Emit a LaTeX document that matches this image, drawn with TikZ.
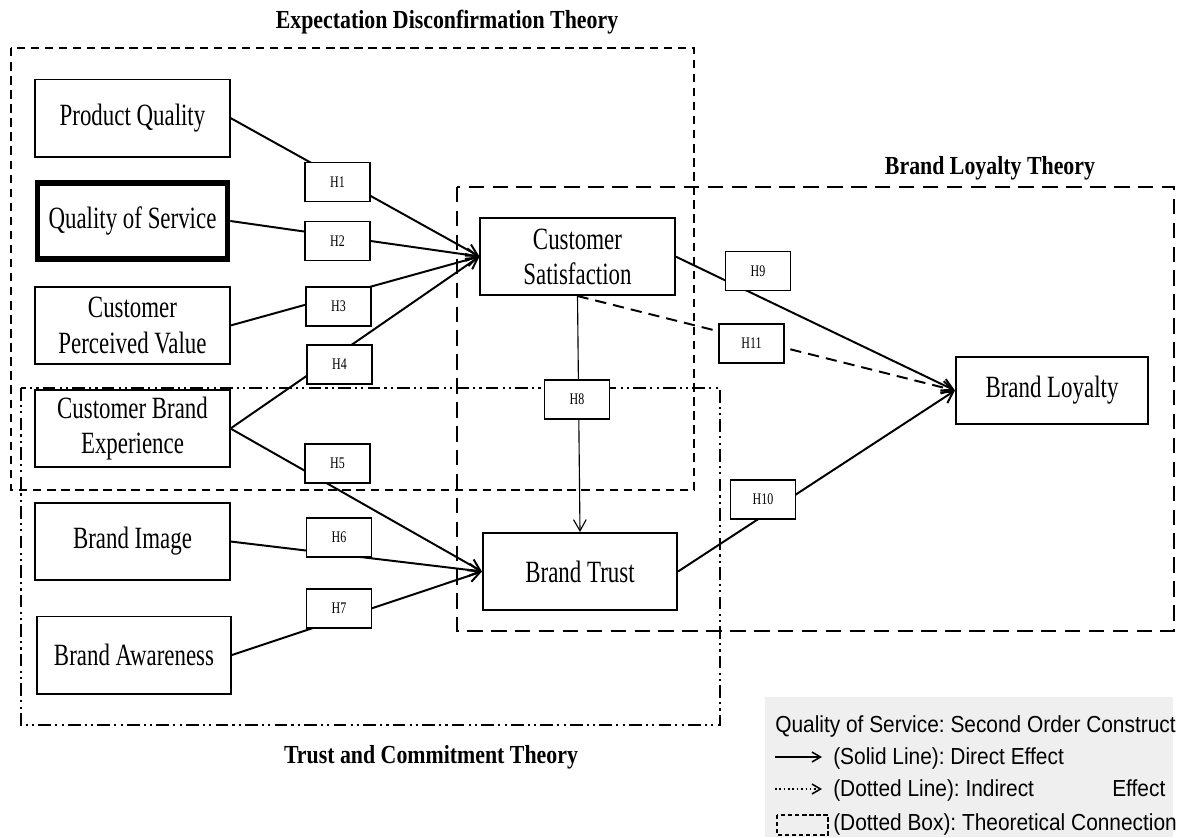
\documentclass[tikz,border=0pt]{standalone}
\usepackage{fontspec}
\usepackage{tikz}
\usetikzlibrary{arrows.meta,positioning}
\newfontfamily\narrowserif[FakeStretch=0.74]{Liberation Serif}
\newfontfamily\narrowtitle[FakeStretch=0.84]{Liberation Serif}
\newfontfamily\narrowsans[FakeStretch=0.9]{Liberation Sans}
\definecolor{LegendGray}{HTML}{EFEFEF}
\frenchspacing

\begin{document}
\begin{tikzpicture}[x=0.025cm, y=-0.025cm,
    construct/.style={draw, line width=1.4pt, fill=white, minimum width=4.85cm, minimum height=1.925cm, inner sep=0pt, align=center, font=\narrowserif\fontsize{22}{25}\selectfont},
    hyp/.style={draw, line width=1.2pt, fill=white, minimum width=1.625cm, minimum height=0.975cm, inner sep=0pt, font=\narrowserif\fontsize{11.5}{13}\selectfont},
    theory/.style={inner sep=0pt, font=\narrowtitle\bfseries\fontsize{18.5}{22}\selectfont},
    legtext/.style={anchor=base west, inner sep=0pt, font=\narrowsans\fontsize{16.5}{20}\selectfont},
    edtzone/.style={line width=1.3pt, dash pattern=on 6pt off 4pt},
    bltzone/.style={line width=1.5pt, dash pattern=on 11pt off 6pt},
    tctzone/.style={line width=1.3pt, dash pattern=on 9pt off 3pt on 1.5pt off 3pt on 1.5pt off 3pt},
    arr/.style={line width=1.4pt, -{Straight Barb[length=8pt,width=9pt]}},
    ind/.style={arr, dash pattern=on 8pt off 5pt},
    thinarr/.style={line width=0.8pt, -{Straight Barb[length=8pt,width=9pt]}}
  ]
    \useasboundingbox (0,0) rectangle (1189,837);

    \draw[edtzone] (11,48) rectangle (694,490);
    \draw[bltzone] (457,187) rectangle (1174,631);
    \draw[tctzone] (21,388) rectangle (720,725);

    \node[theory] (edt) at (447,22) {Expectation Disconfirmation Theory};
    \node[theory] (blt) at (990,168) {Brand Loyalty Theory};
    \node[theory] (tct) at (431,757) {Trust and Commitment Theory};

    \node[construct] (pq) at (132.5,118) {Product Quality};
    \node[construct, line width=4pt, minimum width=4.75cm, minimum height=1.9cm] (qos) at (132.5,221) {Quality of Service};
    \node[construct] (cpv) at (132.5,325.5) {Customer\\Perceived Value};
    \node[construct] (cbe) at (132.5,428.5) {Customer Brand\\Experience};
    \node[construct] (bi) at (132.5,541.5) {Brand Image};
    \node[construct] (ba) at (134,655) {Brand Awareness};
    \node[construct] (cs) at (577.5,256.5) {Customer\\Satisfaction};
    \node[construct] (bt) at (580,571.5) {Brand Trust};
    \node[construct, minimum width=4.8cm, minimum height=1.675cm] (bl) at (1052,390.5) {Brand Loyalty};

    \draw[arr] (pq.east) -- (cs.west);
    \draw[arr] (qos.east) -- (cs.west);
    \draw[arr] (cpv.east) -- (cs.west);
    \draw[arr] (cbe.east) -- (cs.west);
    \draw[arr] (cbe.east) -- (bt.west);
    \draw[arr] (bi.east) -- (bt.west);
    \draw[arr] (ba.east) -- (bt.west);
    \draw[thinarr] (cs.south) -- (bt.north);
    \draw[arr] (cs.east) -- (bl.west);
    \draw[arr] (bt.east) -- (bl.west);
    \draw[ind] (cs.south) -- (bl.west);

    \node[hyp] (h1) at (337.5,182) {H1};
    \node[hyp] (h2) at (337.5,241) {H2};
    \node[hyp] (h3) at (338.5,306.5) {H3};
    \node[hyp] (h4) at (339.5,364.5) {H4};
    \node[hyp] (h5) at (337.5,463.5) {H5};
    \node[hyp] (h6) at (339,537.5) {H6};
    \node[hyp] (h7) at (339,608.5) {H7};
    \node[hyp] (h8) at (577,399.5) {H8};
    \node[hyp] (h9) at (758,271) {H9};
    \node[hyp] (h10) at (763,499.5) {H10};
    \node[hyp] (h11) at (751.5,343.5) {H11};

    \fill[LegendGray] (765,697) rectangle (1173,837);
    \node[legtext] (lgq) at (775,732) {Quality of Service: Second Order Construct};
    \coordinate (lgsa) at (775,757);
    \coordinate (lgsb) at (822,757);
    \draw[line width=1.1pt, -{Straight Barb[length=6pt,width=7pt]}] (lgsa) -- (lgsb);
    \node[legtext] (lgs) at (833,764) {(Solid Line): Direct Effect};
    \coordinate (lgda) at (775,789);
    \coordinate (lgdb) at (822,789);
    \draw[line width=1.1pt, dotted, -{Straight Barb[length=6pt,width=7pt]}] (lgda) -- (lgdb);
    \node[legtext] (lgd) at (833,796) {(Dotted Line): Indirect};
    \node[legtext] (lgde) at (1112,796) {Effect};
    \draw[line width=1pt, dash pattern=on 3pt off 2pt] (777,815) rectangle (828,835);
    \node[legtext] (lgb) at (833,830) {(Dotted Box): Theoretical Connection};
  \end{tikzpicture}
\end{document}
